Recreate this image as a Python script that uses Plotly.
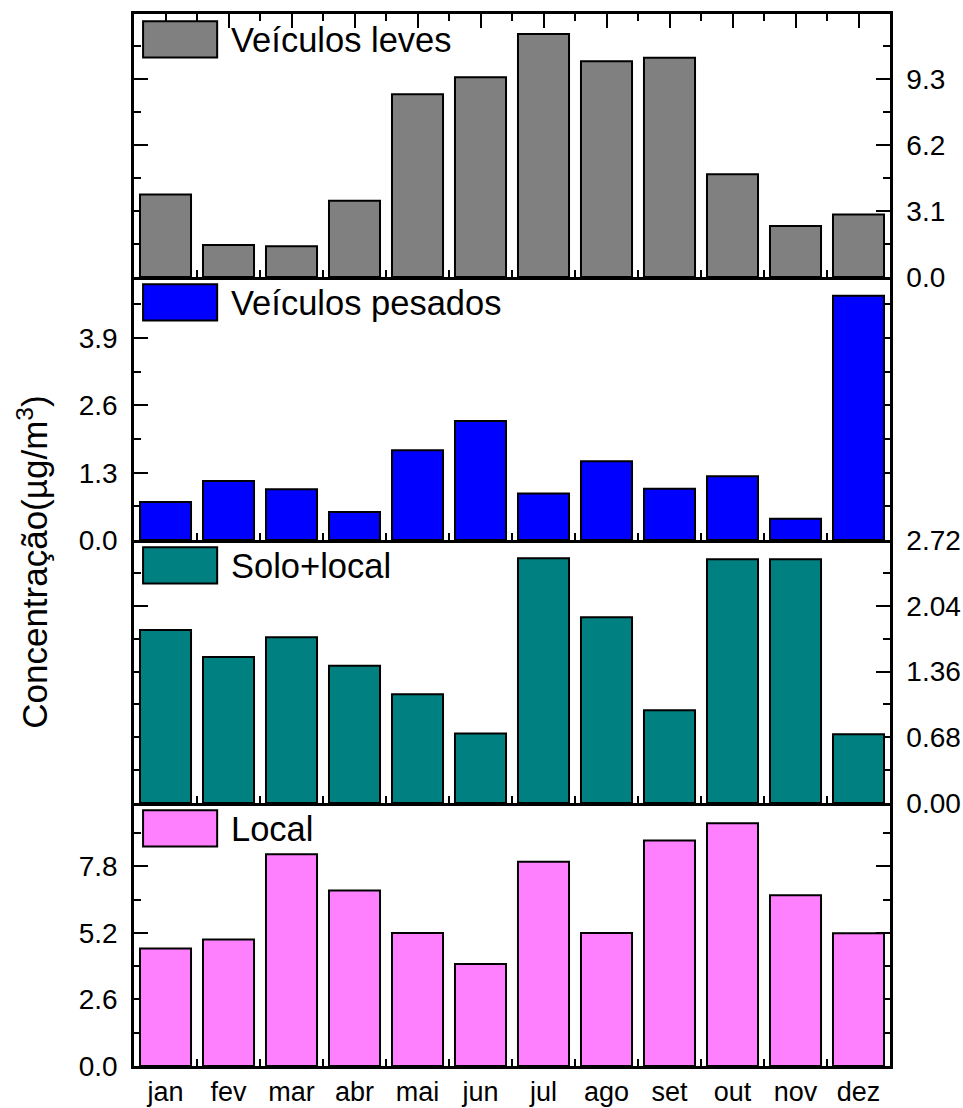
import plotly.graph_objects as go

months = ["jan", "fev", "mar", "abr", "mai", "jun", "jul", "ago", "set", "out", "nov", "dez"]
leves = [3.87, 1.50, 1.44, 3.58, 8.58, 9.38, 11.41, 10.13, 10.30, 4.82, 2.40, 2.93]
pesados = [0.735, 1.14, 0.98, 0.54, 1.735, 2.30, 0.90, 1.52, 0.99, 1.23, 0.41, 4.72]
solo_local = [1.79, 1.51, 1.715, 1.42, 1.126, 0.72, 2.53, 1.92, 0.96, 2.52, 2.52, 0.71]
local = [4.59, 4.94, 8.28, 6.86, 5.20, 3.99, 7.98, 5.20, 8.81, 9.49, 6.67, 5.19]

series_names = ["Veículos leves", "Veículos pesados", "Solo+local", "Local"]
y_max = [12.35, 5.08, 2.72, 10.28]
y_dtick = [3.1, 1.3, 0.68, 2.6]
y_format = [".1f", ".1f", ".2f", ".1f"]
y_side = ["right", "left", "right", "left"]
colors = ["#808080", "#0000FF", "#008080", "#FF80FF"]
series = [leves, pesados, solo_local, local]

FONT = "Liberation Sans, Arial, sans-serif"
x_idx = list(range(len(months)))

fig = go.Figure()
layout = {}
n_panels = len(series)
for i in range(n_panels):
    n = i + 1
    xa = "x" if n == 1 else f"x{n}"
    ya = "y" if n == 1 else f"y{n}"
    xkey = "xaxis" if n == 1 else f"xaxis{n}"
    ykey = "yaxis" if n == 1 else f"yaxis{n}"
    fig.add_trace(go.Bar(
        x=x_idx, y=series[i], xaxis=xa, yaxis=ya, name=series_names[i],
        width=0.81, showlegend=False,
        marker=dict(color=colors[i], line=dict(color="black", width=2)),
    ))
    top = 1 - i / n_panels
    bot = 1 - (i + 1) / n_panels
    layout[xkey] = dict(
        domain=[0, 1], anchor=ya, range=[-0.5, len(months) - 0.5],
        tickmode="array", tickvals=x_idx, ticktext=months,
        showticklabels=(n == n_panels),
        ticks="inside", ticklen=14, tickwidth=2, tickcolor="black",
        minor=dict(ticks="inside", ticklen=7, tickwidth=2, tickcolor="black", tick0=0.5, dtick=1),
        showline=True, linewidth=2.5, linecolor="black",
        mirror=("ticks" if n == 1 else False),
        showgrid=False, zeroline=False, layer="below traces",
        tickfont=dict(family=FONT, size=27, color="black"),
    )
    if n > 1:
        layout[xkey]["matches"] = "x"
    layout[ykey] = dict(
        domain=[bot, top], anchor=xa, range=[0, y_max[i]],
        tick0=0, dtick=y_dtick[i], tickformat=y_format[i], side=y_side[i],
        ticks="inside", ticklen=14, tickwidth=2, tickcolor="black",
        minor=dict(ticks="inside", ticklen=7, tickwidth=2, tickcolor="black", tick0=0, dtick=y_dtick[i] / 2),
        showline=True, linewidth=2.5, linecolor="black", mirror="ticks",
        showgrid=False, zeroline=False, layer="below traces",
        ticklabelstandoff=8,
        tickfont=dict(family=FONT, size=28, color="black"),
    )

shapes = []
annotations = []
for i in range(n_panels):
    n = i + 1
    xa = "x" if n == 1 else f"x{n}"
    ya = "y" if n == 1 else f"y{n}"
    shapes.append(dict(
        type="rect", xref=f"{xa} domain", yref=f"{ya} domain",
        x0=0.012, x1=0.110, y0=0.835, y1=0.972,
        fillcolor=colors[i], line=dict(color="black", width=2), layer="above",
    ))
    annotations.append(dict(
        xref=f"{xa} domain", yref=f"{ya} domain", x=0.125, y=0.903,
        xanchor="left", yanchor="middle", showarrow=False,
        text=series_names[i], font=dict(family=FONT, size=34.5, color="black"),
    ))

annotations.append(dict(
    xref="paper", yref="paper", x=-0.134, y=0.479, xanchor="center", yanchor="middle",
    textangle=-90, showarrow=False,
    text="Concentração(µg/m<sup>3</sup>)", font=dict(family=FONT, size=35, color="black"),
))

fig.update_layout(
    **layout,
    shapes=shapes, annotations=annotations,
    width=963, height=1108,
    margin=dict(l=134, r=73, t=14, b=42, autoexpand=False),
    plot_bgcolor="white", paper_bgcolor="white",
    bargap=0.19,
    font=dict(family=FONT, color="black"),
)

fig.write_html("out.html")
